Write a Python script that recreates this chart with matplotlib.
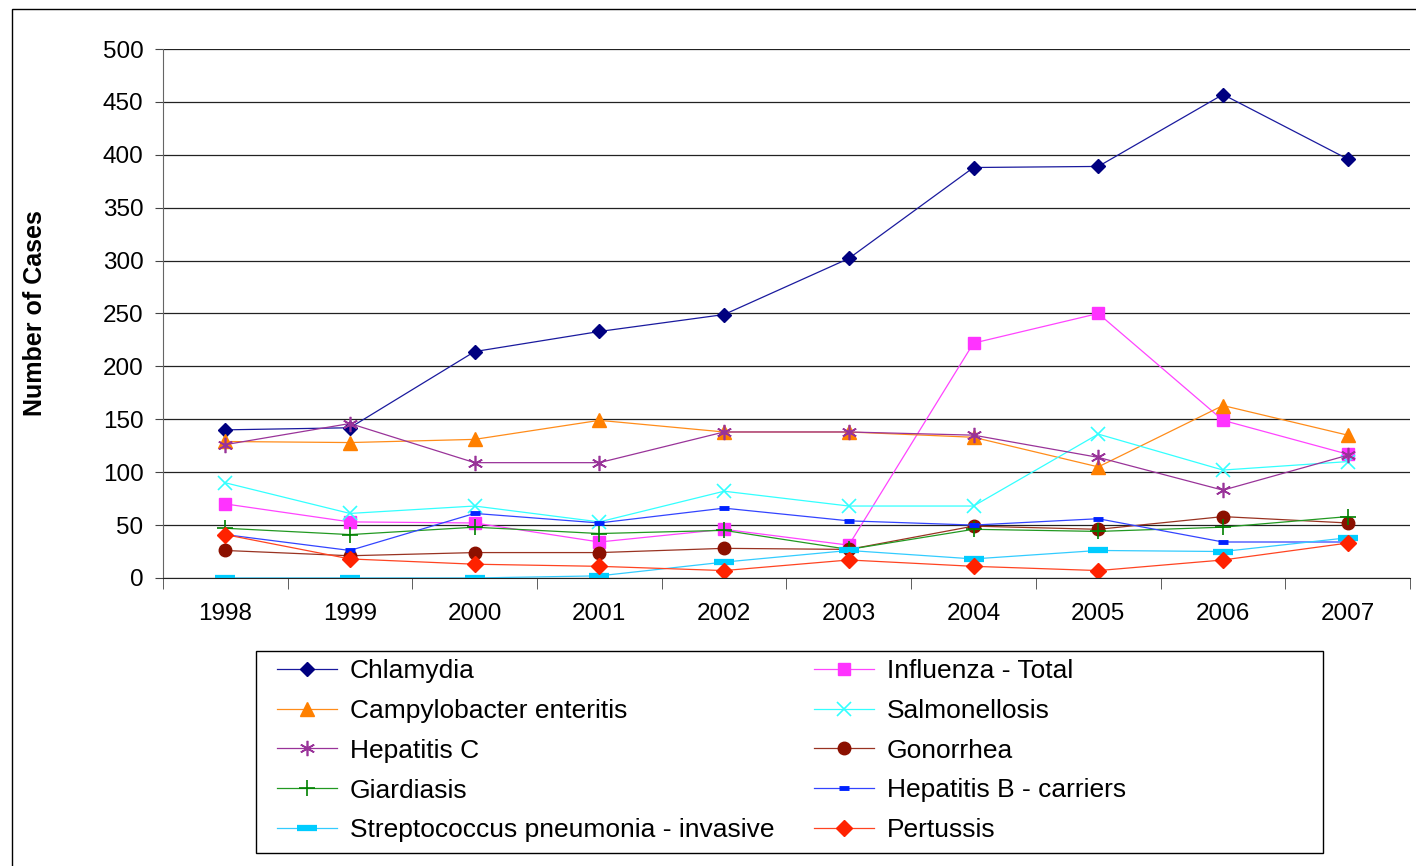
import matplotlib.pyplot as plt
from matplotlib.patches import Rectangle

plt.rcParams['font.family'] = ['Liberation Sans', 'DejaVu Sans']

years = ["1998", "1999", "2000", "2001", "2002", "2003", "2004", "2005", "2006", "2007"]

chlamydia = [140, 142, 214, 233, 249, 302, 388, 389, 457, 396]
influenza = [70, 53, 52, 34, 46, 31, 222, 250, 149, 117]
campylobacter = [129, 128, 131, 149, 138, 138, 133, 105, 163, 135]
salmonellosis = [90, 61, 68, 53, 82, 68, 68, 136, 102, 110]
hepatitis_c = [126, 146, 109, 109, 138, 138, 135, 114, 83, 116]
gonorrhea = [26, 21, 24, 24, 28, 27, 49, 46, 58, 52]
giardiasis = [47, 41, 48, 42, 45, 27, 46, 44, 48, 58]
hepatitis_b = [41, 26, 61, 52, 66, 54, 50, 56, 34, 34]
streptococcus = [0, 0, 0, 2, 15, 26, 18, 26, 25, 38]
pertussis = [41, 18, 13, 11, 7, 17, 11, 7, 17, 33]

# (label, values, line colour, marker, marker colour, size, edge width)
series = [
    ("Chlamydia", chlamydia, "#1a1a9e", "D", "#000080", 7.5, 1),
    ("Influenza - Total", influenza, "#ff44ff", "s", "#ff33ff", 8.5, 1),
    ("Campylobacter enteritis", campylobacter, "#ff8c1a", "^", "#ff8000", 10.5, 1),
    ("Salmonellosis", salmonellosis, "#33ffff", "x", "#33ffff", 10, 1.2),
    ("Hepatitis C", hepatitis_c, "#993399", (6, 2, 0), "#993399", 11, 1.2),
    ("Gonorrhea", gonorrhea, "#993322", "o", "#8b1000", 9, 1),
    ("Giardiasis", giardiasis, "#229922", "+", "#008000", 12, 1.2),
    ("Hepatitis B - carriers", hepatitis_b, "#3344ff", "_", "#0022ff", 7, 3.5),
    ("Streptococcus pneumonia - invasive", streptococcus, "#33ccff", "_", "#00ccff", 14, 4.5),
    ("Pertussis", pertussis, "#ff4422", "D", "#ff2200", 8.5, 1),
]

W, H = 1416, 866
fig = plt.figure(figsize=(W / 100, H / 100), dpi=100)
# outer chart border
fig.patches.append(Rectangle((12 / W, -0.1), 1.2, 1 - 9 / H + 0.1,
                             transform=fig.transFigure, fill=False,
                             edgecolor="black", lw=1))
# legend box
fig.patches.append(Rectangle((256 / W, 1 - 853 / H), (1323 - 256) / W, (853 - 651) / H,
                             transform=fig.transFigure, fill=False,
                             edgecolor="black", lw=1))
ax = fig.add_axes([0.115, 0.3326, 0.8808, 0.6108])

x = list(range(len(years)))
handles = []
for label, vals, lc, mk, mc, ms, mew in series:
    h, = ax.plot(x, vals, color=lc, lw=0.9, marker=mk, markersize=ms,
                 markerfacecolor=mc, markeredgecolor=mc, markeredgewidth=mew,
                 label=label)
    handles.append(h)

ax.set_xlim(-0.5, len(years) - 0.5)
ax.set_ylim(0, 500)
ax.set_yticks(range(0, 501, 50))
ax.yaxis.grid(True, color="#222222", lw=0.9)
ax.set_axisbelow(True)
ax.set_xticks(x)
ax.set_xticklabels(years)
ax.set_xticks([i + 0.5 for i in range(-1, len(years))], minor=True)
ax.tick_params(axis="x", which="major", length=0, pad=18, labelsize=17.5)
ax.tick_params(axis="x", which="minor", length=8, color="#444444")
ax.tick_params(axis="y", length=6, labelsize=17.5, pad=8, color="#444444")
for s in ["top", "right"]:
    ax.spines[s].set_visible(False)
ax.spines["left"].set_color("#666666")
ax.spines["bottom"].set_color("#222222")
ax.set_ylabel("Number of Cases", fontsize=18, fontweight="bold", labelpad=40)

order = [0, 2, 4, 6, 8, 1, 3, 5, 7, 9]
leg = fig.legend([handles[i] for i in order], [series[i][0] for i in order],
                 ncol=2, loc="upper left", bbox_to_anchor=(277 / W, 1 - 659 / H),
                 fontsize=19, frameon=False,
                 handlelength=2.27, labelspacing=0.6, columnspacing=1.5,
                 borderpad=0, handletextpad=0.49, borderaxespad=0)

fig.savefig("out.png", dpi=100)
